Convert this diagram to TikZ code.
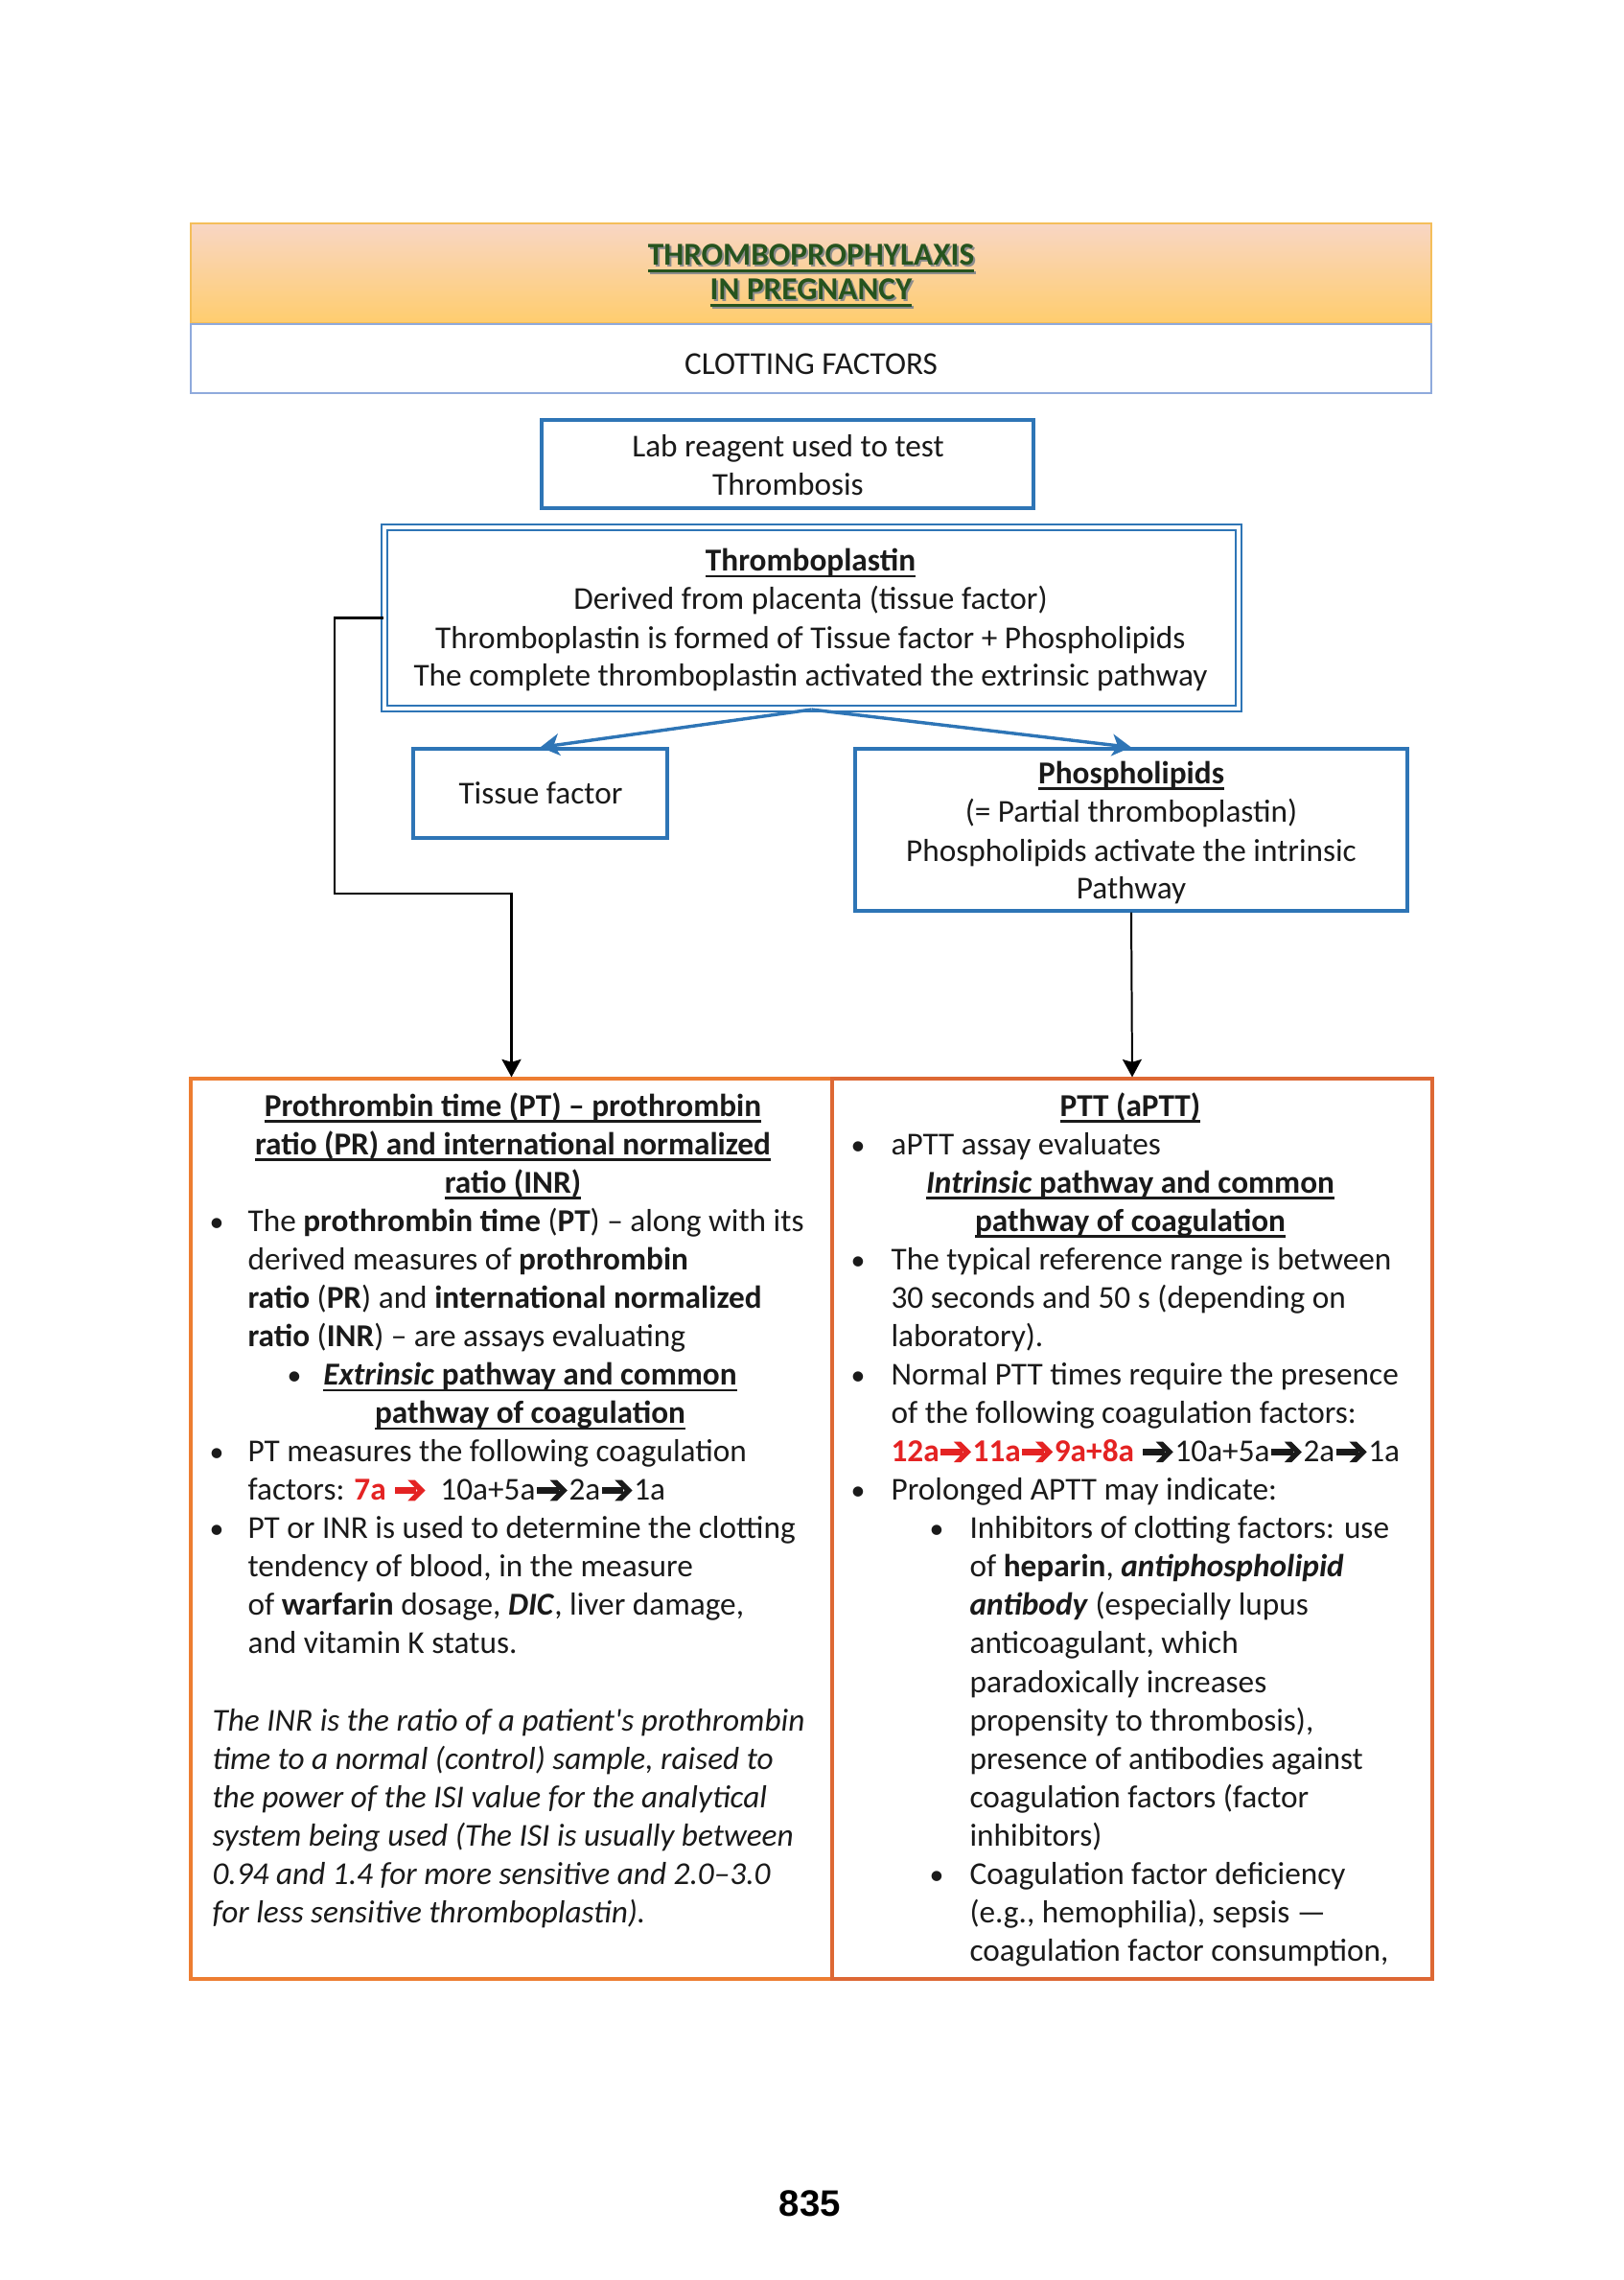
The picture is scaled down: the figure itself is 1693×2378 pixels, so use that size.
\documentclass[tikz,border=0pt]{standalone}
\usepackage{fontspec}
\setmainfont{Carlito}
\newfontfamily\carlitoplain{Carlito}
\newfontfamily\pgnumfont{Liberation Sans}
\usetikzlibrary{fit,arrows.meta}
\definecolor{boxblue}{RGB}{46,117,182}
\definecolor{lightblue}{RGB}{143,170,220}
\definecolor{orgA}{RGB}{237,125,49}
\definecolor{orgB}{RGB}{221,104,52}
\definecolor{hdrTop}{RGB}{248,214,196}
\definecolor{hdrBot}{RGB}{255,205,110}
\definecolor{hdrLine}{RGB}{244,190,90}
\definecolor{ttlgreen}{RGB}{38,84,30}
\definecolor{redtxt}{RGB}{228,35,35}
\definecolor{ink}{RGB}{26,26,26}
\newcommand\fs{\fontsize{11.7}{14.1}\selectfont}
\newcommand\ArrC[1]{\hspace{0.5pt}\tikz[baseline=0pt,x=1pt,y=1pt]{\fill[#1] (0,2.5) rectangle (8,4.7); \fill[#1] (4.8,7.4) -- (7.4,7.4) -- (11.2,3.6) -- (7.4,-0.2) -- (4.8,-0.2) -- (8.4,3.6) -- cycle;}\hspace{0.6pt}}
\newcommand\ArrK{\ArrC{ink}}
\newcommand\ArrR{\ArrC{redtxt}}
\newcommand\bul{{\fontsize{10.5}{12}\selectfont •}}
\newcommand\myul[1]{\setbox0\hbox{#1}\rlap{\rule[-2.3pt]{\wd0}{0.8pt}}\box0}
\newcommand\RowL[4]{\node[txt,anchor=base west] (#1) at (#2,{1164+40.07*(#3)}) {#4};}
\newcommand\RowC[4]{\node[txt,anchor=base] (#1) at (#2,{1164+40.07*(#3)}) {#4};}
\tikzset{
  txt/.style={inner sep=0pt, font=\fs, text=ink},
  bluebox/.style={draw=boxblue, line width=1.1pt, inner sep=0pt},
  orgbox/.style={line width=1.1pt, inner sep=0pt},
  blackarrow/.style={draw=black, -{Stealth[length=6.5pt,width=7pt,inset=1pt]}},
  bluearrow/.style={draw=boxblue, line width=1.2pt, -{Stealth[length=7pt,width=8pt,inset=2pt]}}
}
\begin{document}
\begin{tikzpicture}[x=0.3516pt,y=-0.3516pt]
\fill[white] (0,0) rectangle (1693,2378);
\useasboundingbox (0,0) rectangle (1693,2378);

% ---------- header ----------
\coordinate (hdr-a) at (199,233);
\coordinate (hdr-b) at (1493,337);
\node[fit=(hdr-a)(hdr-b), inner sep=0pt, top color=hdrTop, bottom color=hdrBot, draw=hdrLine, line width=0.6pt] (hdr) {};
\node[txt, anchor=base, text=black!45] (t1s) at (848,279) {\bfseries\myul{THROMBOPROPHYLAXIS}};
\node[txt, anchor=base, text=ttlgreen] (t1) at (846,277) {\bfseries\myul{THROMBOPROPHYLAXIS}};
\node[txt, anchor=base, text=black!45] (t2s) at (848,315) {\bfseries\myul{IN PREGNANCY}};
\node[txt, anchor=base, text=ttlgreen] (t2) at (846,313) {\bfseries\myul{IN PREGNANCY}};

\coordinate (cf-a) at (199,338);
\coordinate (cf-b) at (1493,410);
\node[fit=(cf-a)(cf-b), inner sep=0pt, draw=lightblue, line width=1pt] (cf) {};
\node[txt, anchor=base] (cft) at (846,391) {CLOTTING FACTORS};

% ---------- lab reagent ----------
\coordinate (lab-a) at (565,438);
\coordinate (lab-b) at (1078,530);
\node[fit=(lab-a)(lab-b), bluebox] (lab) {};
\node[txt, anchor=base] (lab1) at (822,477) {Lab reagent used to test};
\node[txt, anchor=base] (lab2) at (822,517) {Thrombosis};

% ---------- thromboplastin ----------
\coordinate (th-a) at (401,550);
\coordinate (th-b) at (1292,739);
\node[fit=(th-a)(th-b), inner sep=0pt, draw=boxblue, line width=0.75pt, double=white, double distance=1.1pt] (thrombo) {};
\node[txt, anchor=base] (th1) at (845.5,595.5) {\textbf{\myul{Thromboplastin}}};
\node[txt, anchor=base] (th2) at (845.5,635.5) {Derived from placenta (tissue factor)};
\node[txt, anchor=base] (th3) at (845.5,676.5) {Thromboplastin is formed of Tissue factor + Phospholipids};
\node[txt, anchor=base] (th4) at (845.5,715.5) {The complete thromboplastin activated the extrinsic pathway};

% ---------- tissue factor ----------
\coordinate (tf-a) at (431,781);
\coordinate (tf-b) at (696,874);
\node[fit=(tf-a)(tf-b), bluebox] (tissue) {};
\node[txt, anchor=base] (tft) at (564,838) {Tissue factor};

% ---------- phospholipids ----------
\coordinate (ph-a) at (892,781);
\coordinate (ph-b) at (1468,950);
\node[fit=(ph-a)(ph-b), bluebox] (phos) {};
\node[txt, anchor=base] (ph1) at (1180,817) {\textbf{\myul{Phospholipids}}};
\node[txt, anchor=base] (ph2) at (1180,857) {(= Partial thromboplastin)};
\node[txt, anchor=base] (ph3) at (1180,898) {Phospholipids activate the intrinsic};
\node[txt, anchor=base] (ph4) at (1180,937) {Pathway};

% ---------- bottom boxes ----------
\coordinate (pt-a) at (199,1125);
\coordinate (pt-b) at (868,2064);
\node[fit=(pt-a)(pt-b), orgbox, draw=orgA] (pt) {};
\coordinate (ptt-a) at (868,1125);
\coordinate (ptt-b) at (1494,2064);
\node[fit=(ptt-a)(ptt-b), orgbox, draw=orgB] (ptt) {};

% ---------- connectors ----------
\draw[bluearrow] (thrombo.south) -- (tissue.north);
\draw[bluearrow] (thrombo.south) -- (phos.north);
\coordinate (bend) at (349,932);
\draw[blackarrow, line width=1pt] (thrombo.west) -| (bend) -| (pt.north);
\draw[blackarrow, line width=0.7pt] (phos.south) -- (ptt.north);

% ---------- left column ----------
\RowC{L0}{535}{0}{\textbf{\myul{Prothrombin time (PT) – prothrombin}}}
\RowC{L1}{535}{1}{\textbf{\myul{ratio (PR) and international normalized}}}
\RowC{L2}{535}{2}{\textbf{\myul{ratio (INR)}}}
\RowC{Lb3}{226}{3}{\bul}
\RowL{L3}{258}{3}{The \textbf{prothrombin time} (\textbf{PT}) – along with its}
\RowL{L4}{258}{4}{derived measures of \textbf{prothrombin}}
\RowL{L5}{258}{5}{\textbf{ratio} (\textbf{PR}) and \textbf{international normalized}}
\RowL{L6}{258}{6}{\textbf{ratio} (\textbf{INR}) – are assays evaluating}
\RowC{Lb7}{307}{7}{\bul}
\RowC{L7}{553}{7}{\textbf{\myul{\textit{Extrinsic} pathway and common}}}
\RowC{L8}{553}{8}{\textbf{\myul{pathway of coagulation}}}
\RowC{Lb9}{226}{9}{\bul}
\RowL{L9}{258}{9}{PT measures the following coagulation}
\RowL{L10}{258}{10}{factors: {\color{redtxt}\textbf{7a}} \ArrR\hspace{5pt}10a+5a\ArrK2a\ArrK1a}
\RowC{Lb11}{226}{11}{\bul}
\RowL{L11}{258}{11}{PT or INR is used to determine the clotting}
\RowL{L12}{258}{12}{tendency of blood, in the measure}
\RowL{L13}{258}{13}{of \textbf{warfarin} dosage, \textbf{\textit{DIC}}, liver damage,}
\RowL{L14}{258}{14}{and vitamin K status.}
\RowL{L16}{221}{16}{\itshape The INR is the ratio of a patient{\carlitoplain\itshape '}s prothrombin}
\RowL{L17}{221}{17}{\itshape time to a normal (control) sample, raised to}
\RowL{L18}{221}{18}{\itshape the power of the ISI value for the analytical}
\RowL{L19}{221}{19}{\itshape system being used (The ISI is usually between}
\RowL{L20}{221}{20}{\itshape 0.94 and 1.4 for more sensitive and 2.0–3.0}
\RowL{L21}{221}{21}{\itshape for less sensitive thromboplastin).}

% ---------- right column ----------
\RowC{R0}{1179}{0}{\textbf{\myul{PTT (aPTT)}}}
\RowC{Rb1}{895}{1}{\bul}
\RowL{R1}{929}{1}{aPTT assay evaluates}
\RowC{R2}{1179}{2}{\textbf{\myul{\textit{Intrinsic} pathway and common}}}
\RowC{R3}{1179}{3}{\textbf{\myul{pathway of coagulation}}}
\RowC{Rb4}{895}{4}{\bul}
\RowL{R4}{929}{4}{The typical reference range is between}
\RowL{R5}{929}{5}{30 seconds and 50 s (depending on}
\RowL{R6}{929}{6}{laboratory).}
\RowC{Rb7}{895}{7}{\bul}
\RowL{R7}{929}{7}{Normal PTT times require the presence}
\RowL{R8}{929}{8}{of the following coagulation factors:}
\RowL{R9}{929}{9}{{\color{redtxt}\textbf{12a\ArrR11a\ArrR9a+8a}} \ArrK10a+5a\ArrK2a\ArrK1a}
\RowC{Rb10}{895}{10}{\bul}
\RowL{R10}{929}{10}{Prolonged APTT may indicate:}
\RowC{Rb11}{977}{11}{\bul}
\RowL{R11}{1011}{11}{Inhibitors of clotting factors: use}
\RowL{R12}{1011}{12}{of \textbf{heparin}, \textbf{\textit{antiphospholipid}}}
\RowL{R13}{1011}{13}{\textbf{\textit{antibody}} (especially lupus}
\RowL{R14}{1011}{14}{anticoagulant, which}
\RowL{R15}{1011}{15}{paradoxically increases}
\RowL{R16}{1011}{16}{propensity to thrombosis),}
\RowL{R17}{1011}{17}{presence of antibodies against}
\RowL{R18}{1011}{18}{coagulation factors (factor}
\RowL{R19}{1011}{19}{inhibitors)}
\RowC{Rb20}{977}{20}{\bul}
\RowL{R20}{1011}{20}{Coagulation factor deficiency}
\RowL{R21}{1011}{21}{(e.g., hemophilia), sepsis —}
\RowL{R22}{1011}{22}{coagulation factor consumption,}

% ---------- page number ----------
\node[inner sep=0pt, anchor=base, font={\pgnumfont\bfseries\fontsize{13.5}{16}\selectfont}] (pgno) at (845,2311) {835};
\end{tikzpicture}
\end{document}
